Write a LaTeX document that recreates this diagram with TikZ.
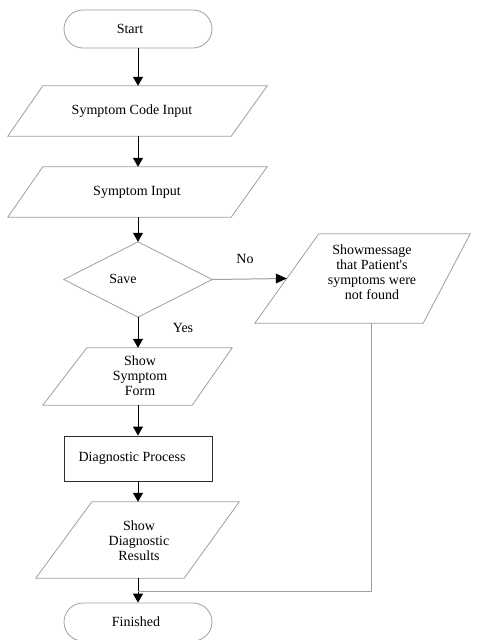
\documentclass[tikz,border=0pt]{standalone}
\usepackage{fontspec}
\setmainfont{Liberation Serif}[Ligatures=TeXOff]
\usetikzlibrary{arrows.meta,calc}
\begin{document}
\begin{tikzpicture}[x=1pt,y=-1pt,
  every node/.style={font=\fontsize{14}{15}\selectfont, inner sep=0pt, align=center},
  frame/.style={draw=gray!75, line width=0.8pt},
  boxfr/.style={draw=gray!35!black, line width=0.9pt},
  holder/.style={rectangle, minimum width=#1},
  flow/.style={draw=black, line width=1pt, -{Triangle[length=9pt,width=10pt]}},
  side/.style={draw=gray!75, line width=1pt},
  txt/.style={}
]
\useasboundingbox[fill=white] (0,0) rectangle (482,640);
\begin{scope}
\clip (0,0) rectangle (482,640);

% Start
\node[frame, rectangle, rounded corners=19pt, minimum width=148pt, minimum height=38pt] (start) at (138,29) {};
\node[txt] (startT) at (130,29) {Start};

% Symptom Code Input
\node[holder=259pt, minimum height=50pt] (sci) at (137.5,111) {};
\draw[frame] ([xshift=35pt]sci.north west) -- (sci.north east) -- ([xshift=-36pt]sci.south east) -- (sci.south west) -- cycle;
\node[txt] (sciT) at (132,111) {Symptom Code Input};

% Symptom Input
\node[holder=259pt, minimum height=50pt] (si) at (137.5,192) {};
\draw[frame] ([xshift=35pt]si.north west) -- (si.north east) -- ([xshift=-36pt]si.south east) -- (si.south west) -- cycle;
\node[txt] (siT) at (137,192) {Symptom Input};

% Save
\node[holder=148pt, minimum height=75pt] (save) at (138,279.5) {};
\draw[frame] (save.north) -- (save.east) -- (save.south) -- (save.west) -- cycle;
\node[txt] (saveT) at (123,279) {Save};

% Message
\node[holder=215pt, minimum height=89pt] (msg) at (362.5,278.5) {};
\draw[frame] ([xshift=64pt]msg.north west) -- (msg.north east) -- ([xshift=-47pt]msg.south east) -- (msg.south west) -- cycle;
\node[txt] (msgT) at (372,272) {Showmessage\\that Patient's\\symptoms were\\not found};
\coordinate (msgL) at ($([xshift=64pt]msg.north west)!0.5!(msg.south west)$);
\coordinate (msgB) at ([xshift=117pt]msg.south west);

% Show Symptom Form
\node[holder=189pt, minimum height=57pt] (ssf) at (137.5,376.5) {};
\draw[frame] ([xshift=44pt]ssf.north west) -- (ssf.north east) -- ([xshift=-40pt]ssf.south east) -- (ssf.south west) -- cycle;
\node[txt] (ssfT) at (140,376) {Show\\Symptom\\Form};

% Diagnostic Process
\node[boxfr, rectangle, minimum width=148pt, minimum height=45pt] (dp) at (138,458.5) {};
\node[txt] (dpT) at (132,458.5) {Diagnostic Process};

% Show Diagnostic Results
\node[holder=203pt, minimum height=76pt] (sdr) at (137.5,540) {};
\draw[frame] ([xshift=56pt]sdr.north west) -- (sdr.north east) -- ([xshift=-55pt]sdr.south east) -- (sdr.south west) -- cycle;
\node[txt] (sdrT) at (139,541) {Show\\Diagnostic\\Results};

% Finished
\node[frame, rectangle, rounded corners=19pt, minimum width=148pt, minimum height=38pt] (fin) at (138,622) {};
\node[txt] (finT) at (136,622) {Finished};

\coordinate (join) at (138,591);

% connectors
\draw[flow] (start.south) -- (start.south |- sci.north);
\draw[flow] (start.south |- sci.south) -- (start.south |- si.north);
\draw[flow] (start.south |- si.south) -- (save.north);
\draw[flow] (save.south) -- (save.south |- ssf.north);
\draw[flow] (save.south |- ssf.south) -- (dp.north);
\draw[flow] (dp.south) -- (dp.south |- sdr.north);
\draw[flow] (dp.south |- sdr.south) -- (fin.north);
\draw[side] (save.east) -- (msgL);
\draw[draw=none, fill=black] (msgL) -- ++(-11,-5) -- ++(0,10) -- cycle;
\draw[side] (msgB) |- (join);

\node (no) at (245,259) {No};
\node (yes) at (183,328) {Yes};
\end{scope}
\end{tikzpicture}
\end{document}
